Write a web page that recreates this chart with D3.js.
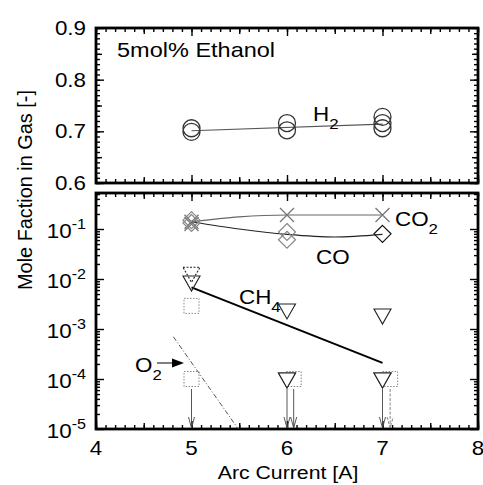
<!DOCTYPE html>
<html>
<head>
<meta charset="utf-8">
<script src="https://cdn.jsdelivr.net/npm/d3@7"></script>
<style>
  html, body { margin: 0; padding: 0; background: #fff; }
  svg { display: block; font-family: "Liberation Sans", Arial, sans-serif; }
</style>
</head>
<body>
<div id="chart"></div>
<script>
// ---- data ----
var xTicks = [4, 5, 6, 7, 8];
var topTicks = [0.6, 0.7, 0.8, 0.9];
var logTicks = [-5, -4, -3, -2, -1];

var h2Points = [[5, 0.699], [5, 0.706], [6, 0.702], [6, 0.716], [7, 0.706], [7, 0.716], [7, 0.728]];
var h2Fit = [[5, 0.701], [7, 0.714]];

var co2Points = [[5, 0.14], [5, 0.126], [6, 0.19], [7, 0.19]];
var co2Fit = [[5, 0.14], [5.5, 0.175], [6, 0.19], [7, 0.19]];

var coPoints = [[5, 0.15, 'gray'], [5, 0.132, 'gray'], [6, 0.087, 'gray'], [6, 0.061, 'gray'], [7, 0.08, 'black']];
var coFit = [[5, 0.14], [5.5, 0.1], [6, 0.078], [6.5, 0.069], [7, 0.078]];

var ch4Points = [[5, 0.013, 'dash'], [5, 0.0087, 'solid'], [6, 0.0024, 'solid'], [7, 0.0019, 'solid']];
var ch4Fit = [[5, 0.0068], [7, 0.00021]];

var o2Points = [[5, 0.0029]];
var o2Fit = [[4.81, 0.0007], [5.49, 0.00001]];

// detection limit markers: [x, symbol, arrow style]
var limitLevel = 1e-4;
var limitFloor = 1e-5;
var limits = [[5, 'square', 'solid'], [6.07, 'square', 'solid'], [6, 'tri', 'solid'],
              [7.08, 'square', 'dash'], [7, 'tri', 'solid']];

// ---- layout ----
var W = 483, H = 485;
var SX = 1.12; // text in the original is a bit stretched horizontally
var left = 96, right = 478;
var topY0 = 28, topY1 = 183;
var botY0 = 193, botY1 = 429;

var svg = d3.select('#chart').append('svg').attr('width', W).attr('height', H);

var x = d3.scaleLinear().domain([4, 8]).range([left, right]);
var yTop = d3.scaleLinear().domain([0.6, 0.9]).range([topY1, topY0]);
var yBot = d3.scaleLog().domain([1e-5, Math.pow(10, -0.28)]).range([botY1, botY0]);

function txt(px, py, parts, size, anchor) {
  var t = svg.append('text')
    .attr('transform', 'translate(' + px + ',' + py + ') scale(' + SX + ',1)')
    .attr('font-size', size || 19)
    .attr('text-anchor', anchor || 'start')
    .attr('fill', '#000');
  parts.forEach(function (p) {
    var s = t.append('tspan').text(p[0]);
    if (p[1] === 'sub') s.attr('dy', 8).attr('font-size', (size || 19) * 0.75);
    if (p[1] === 'sup') s.attr('dy', -9).attr('font-size', (size || 19) * 0.72);
  });
  return t;
}

function minorRange(a, b, step) {
  var out = [];
  for (var v = a; v <= b + 1e-9; v += step) out.push(+v.toFixed(4));
  return out;
}

function tickAxis(axisFn, scale, values, size, transform) {
  var g = svg.append('g').attr('transform', transform)
    .call(axisFn(scale).tickValues(values).tickSize(-size).tickFormat(''));
  g.select('.domain').remove();
  g.selectAll('line').attr('stroke', '#000').attr('stroke-width', 1.4);
}

// x ticks: minor 0.1, medium 0.5, major 1
var xMinor = minorRange(4, 8, 0.1);
var xMid = minorRange(4.5, 7.5, 1);
[[topY0, d3.axisTop], [topY1, d3.axisBottom], [botY0, d3.axisTop], [botY1, d3.axisBottom]].forEach(function (a) {
  tickAxis(a[1], x, xMinor, 4, 'translate(0,' + a[0] + ')');
  tickAxis(a[1], x, xMid, 6, 'translate(0,' + a[0] + ')');
  tickAxis(a[1], x, xTicks, 8, 'translate(0,' + a[0] + ')');
});

// top panel y ticks
var yMinor = minorRange(0.6, 0.9, 0.01);
var yMid = minorRange(0.65, 0.85, 0.1);
[[left, d3.axisLeft], [right, d3.axisRight]].forEach(function (a) {
  tickAxis(a[1], yTop, yMinor, 4, 'translate(' + a[0] + ',0)');
  tickAxis(a[1], yTop, yMid, 6, 'translate(' + a[0] + ',0)');
  tickAxis(a[1], yTop, topTicks, 8, 'translate(' + a[0] + ',0)');
});

// log panel y ticks
var logMinor = [];
logTicks.forEach(function (e) {
  for (var m = 2; m <= 9; m++) {
    var v = m * Math.pow(10, e);
    if (v <= yBot.domain()[1]) logMinor.push(v);
  }
});
var logMajor = logTicks.map(function (e) { return Math.pow(10, e); });
[[left, d3.axisLeft], [right, d3.axisRight]].forEach(function (a) {
  tickAxis(a[1], yBot, logMinor, 4, 'translate(' + a[0] + ',0)');
  tickAxis(a[1], yBot, logMajor, 8, 'translate(' + a[0] + ',0)');
});

// frames
svg.append('rect').attr('x', left).attr('y', topY0).attr('width', right - left).attr('height', topY1 - topY0)
  .attr('fill', 'none').attr('stroke', '#000').attr('stroke-width', 2.8);
svg.append('rect').attr('x', left).attr('y', botY0).attr('width', right - left).attr('height', botY1 - botY0)
  .attr('fill', 'none').attr('stroke', '#000').attr('stroke-width', 2.8);

// tick labels
topTicks.forEach(function (v) {
  txt(86, yTop(v) + 7, [[d3.format('.1f')(v)]], 20, 'end');
});
logTicks.forEach(function (e) {
  txt(86, yBot(Math.pow(10, e)) + 9, [['10'], [String(e), 'sup']], 20, 'end');
});
xTicks.forEach(function (v) {
  txt(x(v), 455, [[String(v)]], 20, 'middle');
});

// axis titles
txt(288, 479, [['Arc Current [A]']], 19, 'middle');
svg.append('text')
  .attr('transform', 'translate(32,190) rotate(-90) scale(1.02,1)')
  .attr('text-anchor', 'middle').attr('font-size', 19.5).attr('fill', '#000')
  .text('Mole Faction in Gas [-]');

// ---- top panel: H2 ----
var lineTop = d3.line().x(function (d) { return x(d[0]); }).y(function (d) { return yTop(d[1]); });
svg.append('path').datum(h2Fit).attr('d', lineTop)
  .attr('fill', 'none').attr('stroke', '#555').attr('stroke-width', 1.1);
svg.selectAll('.h2').data(h2Points).join('circle').attr('class', 'h2')
  .attr('cx', function (d) { return x(d[0]); })
  .attr('cy', function (d) { return yTop(d[1]); })
  .attr('r', 8.5)
  .attr('fill', 'none').attr('stroke', '#333').attr('stroke-width', 1.3);

txt(313, 121, [['H'], ['2', 'sub']], 20);
txt(117, 57, [['5mol% Ethanol']], 21);

// ---- bottom panel ----
var clipId = 'botclip';
svg.append('clipPath').attr('id', clipId).append('rect')
  .attr('x', left).attr('y', botY0).attr('width', right - left).attr('height', botY1 - botY0);
var gb = svg.append('g').attr('clip-path', 'url(#' + clipId + ')');

var lineBot = d3.line().x(function (d) { return x(d[0]); }).y(function (d) { return yBot(d[1]); });
var curveBot = d3.line().curve(d3.curveMonotoneX).x(function (d) { return x(d[0]); }).y(function (d) { return yBot(d[1]); });

gb.append('path').datum(co2Fit).attr('d', curveBot)
  .attr('fill', 'none').attr('stroke', '#666').attr('stroke-width', 1.1);
gb.append('path').datum(coFit).attr('d', curveBot)
  .attr('fill', 'none').attr('stroke', '#222').attr('stroke-width', 1.1);
gb.append('path').datum(ch4Fit).attr('d', lineBot)
  .attr('fill', 'none').attr('stroke', '#000').attr('stroke-width', 2);
gb.append('path').datum(o2Fit).attr('d', lineBot)
  .attr('fill', 'none').attr('stroke', '#444').attr('stroke-width', 0.9)
  .attr('stroke-dasharray', '5,2,1,2');

// CO2 crosses
gb.selectAll('.co2').data(co2Points).join('path').attr('class', 'co2')
  .attr('transform', function (d) { return 'translate(' + x(d[0]) + ',' + yBot(d[1]) + ')'; })
  .attr('d', 'M-7,-7L7,7M-7,7L7,-7')
  .attr('stroke', '#777').attr('stroke-width', 1.3).attr('fill', 'none');

// CO diamonds
gb.selectAll('.co').data(coPoints).join('path').attr('class', 'co')
  .attr('transform', function (d) { return 'translate(' + x(d[0]) + ',' + yBot(d[1]) + ')'; })
  .attr('d', 'M0,-8.5L8.5,0L0,8.5L-8.5,0Z')
  .attr('fill', 'none')
  .attr('stroke', function (d) { return d[2] === 'black' ? '#111' : '#888'; })
  .attr('stroke-width', 1.2);

// CH4 triangles (pointing down)
var triD = 'M-8.5,-6L8.5,-6L0,9Z';
gb.selectAll('.ch4').data(ch4Points).join('path').attr('class', 'ch4')
  .attr('transform', function (d) { return 'translate(' + x(d[0]) + ',' + yBot(d[1]) + ')'; })
  .attr('d', triD)
  .attr('fill', 'none').attr('stroke', '#222').attr('stroke-width', 1.1)
  .attr('stroke-dasharray', function (d) { return d[2] === 'dash' ? '2,1.5' : null; });

// O2 squares
var sqD = 'M-7.5,-7.5H7.5V7.5H-7.5Z';
gb.selectAll('.o2').data(o2Points).join('path').attr('class', 'o2')
  .attr('transform', function (d) { return 'translate(' + x(d[0]) + ',' + yBot(d[1]) + ')'; })
  .attr('d', sqD)
  .attr('fill', 'none').attr('stroke', '#888').attr('stroke-width', 1)
  .attr('stroke-dasharray', '1.5,1.5');

// detection limits with arrows
limits.forEach(function (d) {
  var cx = x(d[0]), cy = yBot(limitLevel), fy = yBot(limitFloor);
  var isSq = d[1] === 'square';
  gb.append('path')
    .attr('transform', 'translate(' + cx + ',' + cy + ')')
    .attr('d', isSq ? sqD : triD)
    .attr('fill', isSq ? 'none' : '#fff')
    .attr('stroke', isSq ? '#888' : '#222')
    .attr('stroke-width', isSq ? 1 : 1.1)
    .attr('stroke-dasharray', isSq ? '1.5,1.5' : null);
  var col = isSq && d[2] === 'dash' ? '#777' : '#444';
  gb.append('path')
    .attr('d', 'M' + cx + ',' + (cy + 10) + 'V' + (fy - 1) +
      'M' + (cx - 3) + ',' + (fy - 12) + 'L' + cx + ',' + (fy - 1) + 'L' + (cx + 3) + ',' + (fy - 12))
    .attr('fill', 'none').attr('stroke', col).attr('stroke-width', 0.9)
    .attr('stroke-dasharray', d[2] === 'dash' ? '3,1.5' : null);
});
// triangles drawn over the squares at the same level
gb.selectAll('.limTri').data(limits.filter(function (d) { return d[1] === 'tri'; })).join('path')
  .attr('class', 'limTri')
  .attr('transform', function (d) { return 'translate(' + x(d[0]) + ',' + yBot(limitLevel) + ')'; })
  .attr('d', triD)
  .attr('fill', '#fff').attr('stroke', '#222').attr('stroke-width', 1.1);

// labels
txt(395, 226, [['CO'], ['2', 'sub']], 20);
txt(316, 264, [['CO']], 20);
txt(239, 304, [['CH'], ['4', 'sub']], 20);
txt(135, 372, [['O'], ['2', 'sub']], 20);
svg.append('path').attr('d', 'M157,363H173').attr('stroke', '#000').attr('stroke-width', 1);
svg.append('path').attr('d', 'M172,358.5L184,363L172,367.5Z').attr('fill', '#000');
</script>
</body>
</html>
